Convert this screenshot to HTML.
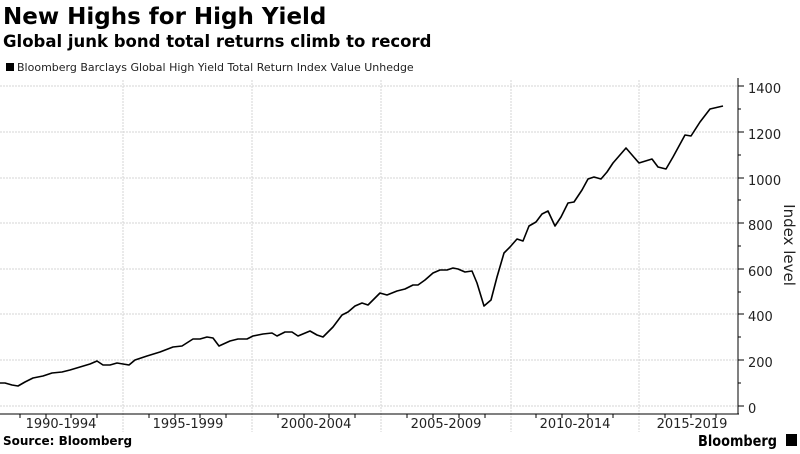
<!DOCTYPE html>
<html><head><meta charset="utf-8"><style>
body{margin:0;background:#fff;width:800px;height:450px;overflow:hidden;font-family:"DejaVu Sans","Liberation Sans",sans-serif}
</style></head><body>
<svg width="800" height="450" xmlns="http://www.w3.org/2000/svg" font-family="DejaVu Sans, Liberation Sans, sans-serif">
<text x="3" y="24" font-size="23" font-weight="bold" fill="#000">New Highs for High Yield</text>
<text x="3" y="47" font-size="16.5" font-weight="bold" fill="#000">Global junk bond total returns climb to record</text>
<rect x="6" y="63" width="8" height="8" fill="#000"/>
<text x="17" y="71" font-size="11" fill="#222">Bloomberg Barclays Global High Yield Total Return Index Value Unhedge</text>
<g stroke="#d4d4d4" stroke-width="1" stroke-dasharray="2,1">
<line x1="0" x2="738" y1="86" y2="86"/><line x1="0" x2="738" y1="132" y2="132"/><line x1="0" x2="738" y1="178" y2="178"/><line x1="0" x2="738" y1="223" y2="223"/><line x1="0" x2="738" y1="269" y2="269"/><line x1="0" x2="738" y1="314" y2="314"/><line x1="0" x2="738" y1="360" y2="360"/><line x1="0" x2="738" y1="406" y2="406"/>
<line x1="123" x2="123" y1="80" y2="432"/><line x1="252" x2="252" y1="80" y2="432"/><line x1="381" x2="381" y1="80" y2="432"/><line x1="511" x2="511" y1="80" y2="432"/><line x1="639" x2="639" y1="80" y2="432"/>
</g>
<line x1="0" x2="739" y1="414" y2="414" stroke="#000"/>
<line x1="738" x2="738" y1="78" y2="414" stroke="#000"/>
<g stroke="#000">
<line x1="20" x2="20" y1="414" y2="418"/><line x1="46" x2="46" y1="414" y2="418"/><line x1="71" x2="71" y1="414" y2="418"/><line x1="97" x2="97" y1="414" y2="418"/>
<line x1="149" x2="149" y1="414" y2="418"/><line x1="175" x2="175" y1="414" y2="418"/><line x1="200" x2="200" y1="414" y2="418"/><line x1="226" x2="226" y1="414" y2="418"/>
<line x1="278" x2="278" y1="414" y2="418"/><line x1="304" x2="304" y1="414" y2="418"/><line x1="329" x2="329" y1="414" y2="418"/><line x1="355" x2="355" y1="414" y2="418"/>
<line x1="407" x2="407" y1="414" y2="418"/><line x1="433" x2="433" y1="414" y2="418"/><line x1="459" x2="459" y1="414" y2="418"/><line x1="485" x2="485" y1="414" y2="418"/>
<line x1="536" x2="536" y1="414" y2="418"/><line x1="562" x2="562" y1="414" y2="418"/><line x1="588" x2="588" y1="414" y2="418"/><line x1="613" x2="613" y1="414" y2="418"/>
<line x1="665" x2="665" y1="414" y2="418"/><line x1="691" x2="691" y1="414" y2="418"/><line x1="716" x2="716" y1="414" y2="418"/>
<line x1="738" x2="744" y1="86" y2="86"/><line x1="738" x2="744" y1="132" y2="132"/><line x1="738" x2="744" y1="178" y2="178"/><line x1="738" x2="744" y1="223" y2="223"/><line x1="738" x2="744" y1="269" y2="269"/><line x1="738" x2="744" y1="314" y2="314"/><line x1="738" x2="744" y1="360" y2="360"/><line x1="738" x2="744" y1="406" y2="406"/>
<line x1="738" x2="741" y1="109" y2="109"/><line x1="738" x2="741" y1="155" y2="155"/><line x1="738" x2="741" y1="200" y2="200"/><line x1="738" x2="741" y1="246" y2="246"/><line x1="738" x2="741" y1="292" y2="292"/><line x1="738" x2="741" y1="337" y2="337"/><line x1="738" x2="741" y1="383" y2="383"/>
</g>
<g font-size="13" fill="#222">
<text x="748" y="93">1400</text><text x="748" y="139">1200</text><text x="748" y="185">1000</text><text x="748" y="230">800</text><text x="748" y="276">600</text><text x="748" y="321">400</text><text x="748" y="367">200</text><text x="748" y="413">0</text>
</g>
<text transform="translate(784,245) rotate(90)" font-size="15" fill="#222" text-anchor="middle">Index level</text>
<g font-size="13" fill="#222" text-anchor="middle">
<text x="61" y="428">1990-1994</text><text x="188" y="428">1995-1999</text><text x="316" y="428">2000-2004</text><text x="446" y="428">2005-2009</text><text x="575" y="428">2010-2014</text><text x="692" y="428">2015-2019</text>
</g>
<text x="3" y="445" font-size="12" font-weight="bold" fill="#000">Source: Bloomberg</text>
<text x="698" y="446" font-size="15" font-weight="bold" fill="#000" textLength="79" lengthAdjust="spacingAndGlyphs">Bloomberg</text>
<rect x="786" y="434" width="11" height="12" fill="#000"/>
<polyline fill="none" stroke="#000" stroke-width="1.6" stroke-linejoin="round" points="0,383 5,383 12,385 18,386 25,382 33,378 43,376 52,373 62,372 70,370 80,367 90,364 97,361 103,365 110,365 117,363 123,364 129,365 135,360 147,356 160,352 173,347 182,346 193,339 200,339 207,337 213,338 219,346 230,341 238,339 247,339 253,336 263,334 272,333 277,336 285,332 292,332 298,336 310,331 317,335 323,337 333,327 342,315 348,312 355,306 362,303 368,305 380,293 387,295 397,291 405,289 413,285 418,285 425,280 433,273 440,270 447,270 453,268 458,269 465,272 472,271 477,283 484,306 491,300 497,277 504,253 510,247 517,239 523,241 529,226 536,222 542,214 548,211 555,226 561,217 568,203 574,202 582,190 588,179 594,177 601,179 607,172 613,163 626,148 639,163 652,159 658,167 666,169 673,157 685,135 691,136 700,122 710,109 723,106"/>
</svg>
</body></html>
